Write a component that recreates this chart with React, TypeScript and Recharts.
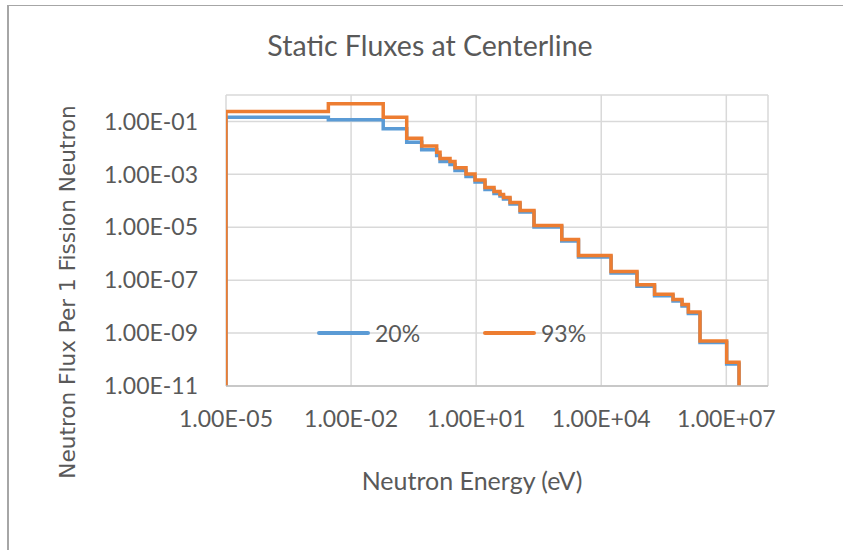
import { LineChart, Line, XAxis, YAxis, CartesianGrid, Legend } from "recharts";

// group boundaries (eV); first entry repeated so the curve rises from the floor
const energies = [
  1e-5, 1e-5, 2.85e-3, 5.9e-2, 0.216, 0.494, 1.13, 1.36, 2.36, 3.11, 5.71, 9.4,
  16.3, 26.8, 37.3, 45.3, 64.9, 113, 244, 1130, 2850, 17200, 72100, 1.9e5,
  5.27e5, 8.67e5, 1.23e6, 2.34e6, 1.02e7, 2.02e7,
];

const flux20 = [
  1e-11, 0.145, 0.115, 0.0527, 0.0164, 8.5e-3, 5.2e-3, 3.06e-3, 2.36e-3, 1.4e-3,
  8.3e-4, 5.1e-4, 2.67e-4, 1.89e-4, 1.52e-4, 1.17e-4, 7.6e-5, 3.77e-5, 1.02e-5,
  3.0e-6, 7.5e-7, 1.86e-7, 5.85e-8, 2.58e-8, 1.63e-8, 1.05e-8, 5.5e-9, 4.4e-10,
  6.76e-11, 1e-11,
];

const flux93 = [
  1e-11, 0.238, 0.465, 0.145, 0.0233, 0.0118, 6.9e-3, 3.97e-3, 3.06e-3, 1.77e-3,
  1.03e-3, 6.1e-4, 3.18e-4, 2.25e-4, 1.73e-4, 1.33e-4, 8.6e-5, 4.3e-5, 1.16e-5,
  3.44e-6, 8.55e-7, 2.12e-7, 6.67e-8, 2.94e-8, 1.85e-8, 1.2e-8, 6.25e-9, 5.0e-10,
  7.9e-11, 1e-11,
];

const xTicks = [1e-5, 1e-2, 1e1, 1e4, 1e7];
const yTicks = [1e-11, 1e-9, 1e-7, 1e-5, 1e-3, 1e-1];

const data = energies.map((e, i) => ({ e, s20: flux20[i], s93: flux93[i] }));

const BLUE = "#5b9bd5";
const ORANGE = "#ed7d31";
const TEXT = "#595959";
const CALIBRI = "Lato, 'Open Sans', sans-serif";

function sci(v: number) {
  const [m, ex] = v.toExponential(2).split("e");
  const n = parseInt(ex, 10);
  return `${m}E${n < 0 ? "-" : "+"}${String(Math.abs(n)).padStart(2, "0")}`;
}

function LegendRow() {
  const item = (color: string, label: string, left: number) => (
    <div style={{ position: "absolute", left, top: 0, display: "flex", alignItems: "center", height: 30 }}>
      <div style={{ width: 53, height: 3.5, background: color, borderRadius: 2 }} />
      <span style={{ marginLeft: 5, fontSize: 23, color: TEXT, fontFamily: CALIBRI, lineHeight: 1 }}>
        {label}
      </span>
    </div>
  );
  return (
    <div style={{ position: "relative", width: 300, height: 30 }}>
      {item(BLUE, "20%", 0)}
      {item(ORANGE, "93%", 166)}
    </div>
  );
}

export default function App() {
  return (
    <div
      style={{
        position: "absolute",
        left: 0,
        top: 0,
        width: 843,
        height: 550,
        overflow: "hidden",
        background: "#fff",
      }}
    >
      <div
        style={{
          position: "absolute",
          left: 7,
          top: 5,
          width: 900,
          height: 600,
          borderLeft: "2px solid #a6a6a6",
          borderTop: "1px solid #a6a6a6",
        }}
      />
      <div
        style={{
          position: "absolute",
          left: 430,
          top: 45,
          transform: "translate(-50%, -50%)",
          fontFamily: CALIBRI,
          fontSize: 28.5,
          color: TEXT,
          whiteSpace: "nowrap",
          lineHeight: 1,
        }}
      >
        Static Fluxes at Centerline
      </div>
      <div
        style={{
          position: "absolute",
          left: 472,
          top: 480,
          transform: "translate(-50%, -50%)",
          fontFamily: CALIBRI,
          fontSize: 25,
          color: TEXT,
          whiteSpace: "nowrap",
          lineHeight: 1,
        }}
      >
        Neutron Energy (eV)
      </div>
      <div
        style={{
          position: "absolute",
          left: 68,
          top: 292,
          transform: "translate(-50%, -50%) rotate(-90deg)",
          fontFamily: "'DejaVu Sans', sans-serif",
          fontSize: 21.6,
          color: TEXT,
          whiteSpace: "nowrap",
          lineHeight: 1,
        }}
      >
        Neutron Flux Per 1 Fission Neutron
      </div>
      <div style={{ position: "absolute", left: 0, top: 0 }}>
        <LineChart
          width={843}
          height={550}
          data={data}
          margin={{ top: 95, right: 75, bottom: 124, left: 106 }}
        >
          <CartesianGrid stroke="#d9d9d9" strokeWidth={1.5} />
          <XAxis
            dataKey="e"
            type="number"
            scale="log"
            domain={[1e-5, 1e8]}
            ticks={xTicks}
            interval={0}
            allowDataOverflow
            tickFormatter={sci}
            tick={{ fontSize: 23, fill: TEXT, fontFamily: CALIBRI }}
            axisLine={{ stroke: "#bfbfbf", strokeWidth: 1.5 }}
            tickLine={false}
            tickSize={0}
            tickMargin={25}
            height={40}
          />
          <YAxis
            type="number"
            scale="log"
            domain={[1e-11, 1]}
            ticks={yTicks}
            interval={0}
            allowDataOverflow
            tickFormatter={sci}
            tick={{ fontSize: 23, fill: TEXT, fontFamily: CALIBRI }}
            axisLine={false}
            tickLine={false}
            tickSize={0}
            tickMargin={28}
            width={120}
          />
          <Legend
            verticalAlign="middle"
            align="center"
            wrapperStyle={{ left: 317, top: 318, width: 300 }}
            content={() => <LegendRow />}
          />
          <Line
            dataKey="s20"
            name="20%"
            type="stepAfter"
            stroke={BLUE}
            strokeWidth={3.5}
            dot={false}
            activeDot={false}
            isAnimationActive={false}
          />
          <Line
            dataKey="s93"
            name="93%"
            type="stepAfter"
            stroke={ORANGE}
            strokeWidth={3.5}
            dot={false}
            activeDot={false}
            isAnimationActive={false}
          />
        </LineChart>
      </div>
    </div>
  );
}
